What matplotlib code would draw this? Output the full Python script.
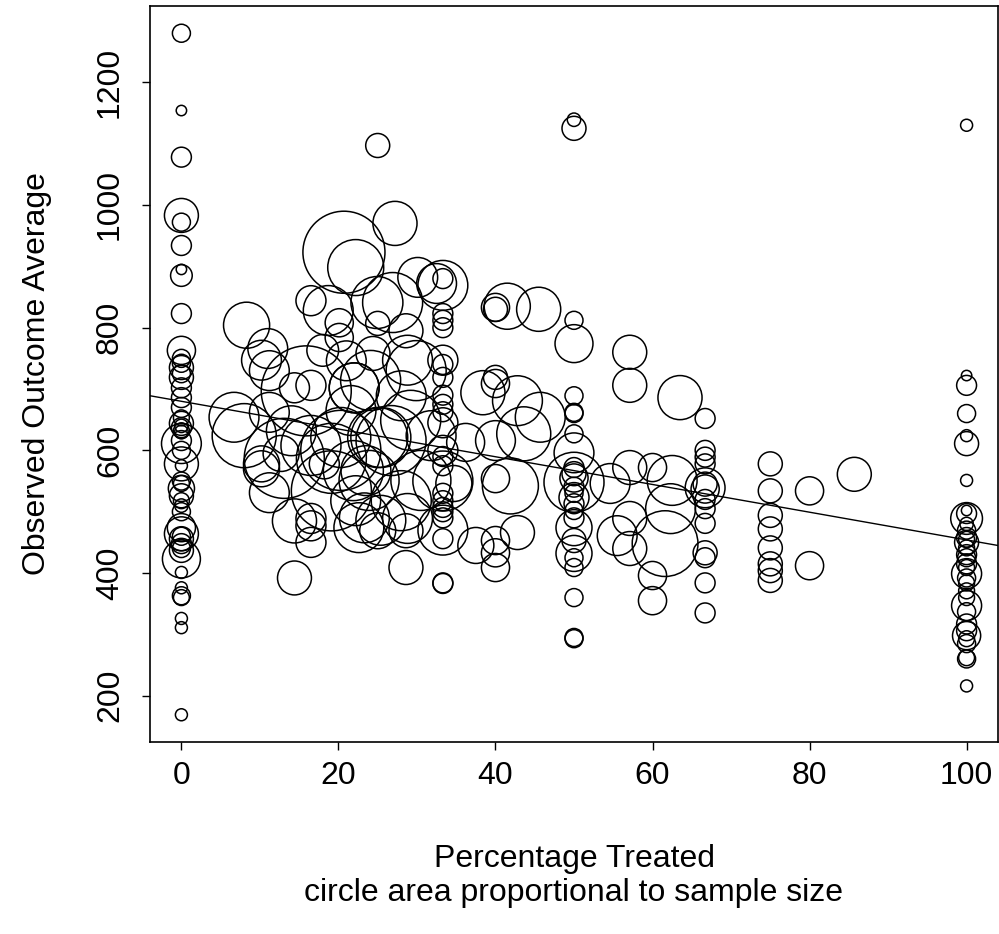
import numpy as np
import matplotlib
matplotlib.use("Agg")
import matplotlib.pyplot as plt

plt.rcParams['font.family'] = ['Liberation Sans', 'DejaVu Sans']

# percentage treated, observed outcome average, sample size
pct_0 = [0] * 51
out_0 = [1280, 1154, 1078, 983, 972, 934, 895, 885, 823, 763, 750, 742, 735, 725, 719,
         702, 686, 670, 653, 644, 640, 637, 632, 630, 616, 611, 600, 578, 575, 550,
         546, 538, 526, 518, 510, 500, 474, 464, 460, 456, 448, 440, 437, 423, 401,
         376, 363, 360, 326, 311, 169]
n_0 = [9, 3, 11, 32, 9, 11, 3, 13, 11, 22, 9, 9, 16, 9, 16,
       11, 11, 11, 7, 16, 5, 11, 7, 5, 11, 44, 9, 32, 4, 9,
       7, 19, 16, 7, 5, 9, 22, 32, 9, 16, 11, 9, 16, 40, 4,
       4, 9, 7, 4, 4, 4]

pct_mid = [6.7, 8.0, 8.3, 10.2, 11.2, 11.0, 10.2, 11.2, 11.2, 13.1, 14.4, 14.4, 14.4,
           16.5, 15.9, 16.5, 16.5, 16.5, 16.5, 18.7, 20.1, 20.1, 20.7, 22.2, 27.2, 25.0,
           24.9, 25.0, 28.6, 30.1, 32.5, 20.3, 22.0, 26.9, 19.1, 26.7, 29.2, 22.2, 28.0,
           23.5, 24.1, 21.6, 29.9, 28.0, 30.5, 25.4, 31.8, 16.5, 14.0, 21.0, 18.0, 21.9,
           28.6, 28.6, 25.0, 22.6, 23.9, 28.8, 12.7, 18.2, 24.4, 28.8, 25.0, 22.0, 10.2,
           23.3, 25.4, 20.3, 19.1]
out_mid = [654, 624, 804, 570, 662, 766, 747, 730, 531, 587, 702, 392, 485,
           706, 697, 844, 489, 477, 450, 828, 808, 784, 923, 898, 970, 1097,
           841, 807, 795, 882, 872, 600, 702, 841, 534, 616, 649, 518, 518,
           567, 714, 665, 730, 689, 551, 486, 624, 608, 632, 746, 763, 567,
           409, 469, 469, 474, 551, 489, 595, 578, 758, 747, 621, 702, 578,
           490, 621, 621, 587]
n_mid = [69, 114, 59, 36, 44, 44, 44, 44, 44, 178, 25, 32, 54,
         25, 225, 25, 25, 25, 25, 69, 22, 22, 187, 87, 54, 16,
         75, 16, 32, 44, 44, 178, 69, 100, 178, 136, 100, 69, 100,
         69, 100, 69, 100, 69, 100, 69, 69, 100, 69, 44, 28, 100,
         32, 32, 36, 69, 100, 69, 36, 25, 32, 69, 100, 69, 36,
         69, 100, 100, 136]

pct_33 = [33.3] * 25
out_33 = [880, 869, 823, 812, 800, 747, 719, 690, 675, 663, 645, 600, 590, 575, 550,
          518, 507, 500, 490, 470, 456, 384, 383, 740, 530]
n_33 = [11, 69, 11, 11, 11, 25, 11, 11, 11, 11, 25, 25, 11, 11, 100,
        11, 11, 11, 11, 69, 11, 11, 11, 11, 11]

pct_40 = [34.7, 36.2, 37.5, 38.4, 40, 40, 40, 40, 40, 40, 40, 40, 40,
          41.5, 41.9, 42.8, 42.8, 43.6, 45.5, 45.7]
out_40 = [546, 613, 445, 694, 833, 830, 719, 709, 616, 554, 453, 433, 409,
          835, 542, 681, 466, 627, 830, 654]
n_40 = [36, 40, 36, 54, 22, 16, 16, 22, 44, 22, 22, 22, 22,
        59, 87, 69, 32, 81, 54, 69]

pct_50 = [50] * 27
out_50 = [1139, 1125, 812, 774, 689, 662, 660, 627, 596, 572, 562, 555, 548, 540,
          530, 523, 513, 502, 490, 474, 453, 432, 425, 409, 360, 295, 293]
n_50 = [5, 16, 9, 40, 9, 9, 9, 9, 44, 11, 16, 22, 100, 11,
        9, 25, 11, 9, 11, 36, 16, 36, 9, 9, 9, 9, 9]

pct_high = [54.6, 55.5, 57.1, 57.1, 57.1, 57.1, 57.1, 60, 60, 60, 61.6, 62.5, 62.3, 63.5,
            66.7, 66.7, 66.7, 66.7, 66.7, 66.7, 66.7, 66.7, 66.7, 66.7, 66.7, 66.7, 66.7, 66.7,
            75, 75, 75, 75, 75, 75, 75, 75, 80, 80, 85.7]
out_high = [546, 461, 760, 706, 572, 489, 440, 572, 396, 355, 448, 551, 505, 686,
            652, 600, 589, 578, 545, 539, 537, 520, 505, 481, 433, 425, 384, 335,
            578, 534, 494, 472, 441, 415, 404, 388, 534, 412, 561]
n_high = [44, 44, 32, 32, 32, 32, 32, 22, 22, 22, 120, 69, 69, 54,
          11, 11, 11, 11, 16, 44, 22, 11, 11, 11, 16, 11, 11, 11,
          16, 16, 16, 16, 16, 16, 16, 16, 22, 22, 32]

pct_100 = [100] * 35
out_100 = [1130, 722, 706, 660, 624, 611, 551, 502, 497, 489, 480, 470, 458, 455, 450,
           441, 430, 425, 415, 409, 399, 392, 384, 371, 360, 347, 337, 317, 306, 298,
           293, 285, 262, 260, 216]
n_100 = [4, 3, 11, 9, 4, 16, 4, 3, 11, 28, 5, 9, 11, 7, 16,
         7, 11, 9, 11, 7, 25, 9, 7, 7, 7, 25, 9, 11, 11, 22,
         7, 9, 7, 9, 4]

# fitted line
intercept = 680
slope = -2.26

pct = np.array(pct_0 + pct_mid + pct_33 + pct_40 + pct_50 + pct_high + pct_100)
outcome = np.array(out_0 + out_mid + out_33 + out_40 + out_50 + out_high + out_100)
size = np.array(n_0 + n_mid + n_33 + n_40 + n_50 + n_high + n_100)

fig = plt.figure(figsize=(9.99, 9.34), dpi=100)
ax = fig.add_axes([150/999, 192/934, 848/999, 736/934])

# circle area proportional to sample size
radius_pt = 3 * np.sqrt(size) * 72 / 100
ax.scatter(pct, outcome, s=(2 * radius_pt) ** 2, facecolors='none',
           edgecolors='black', linewidths=1.1)
ax.axline((0, intercept), slope=slope, color='black', lw=1.0)

ax.set_xlim(-4, 104)
ax.set_ylim(124.6, 1324.4)
ax.set_xticks([0, 20, 40, 60, 80, 100])
ax.set_yticks([200, 400, 600, 800, 1000, 1200])
ax.tick_params(axis='both', labelsize=23, length=6, width=1.0)
ax.tick_params(axis='x', pad=8)
ax.tick_params(axis='y', pad=12)
for lab in ax.get_yticklabels():
    lab.set_rotation(90)
    lab.set_va('center')
for sp in ax.spines.values():
    sp.set_linewidth(1.2)

ax.set_xlabel('Percentage Treated\ncircle area proportional to sample size',
              fontsize=23, linespacing=1.2)
ax.xaxis.set_label_coords(0.5, -0.182)
ax.xaxis.label.set_va('center')
ax.set_ylabel('Observed Outcome Average', fontsize=23)
ax.yaxis.set_label_coords(-0.133, 0.5)
ax.yaxis.label.set_va('center')

fig.savefig('out.png', dpi=100)
